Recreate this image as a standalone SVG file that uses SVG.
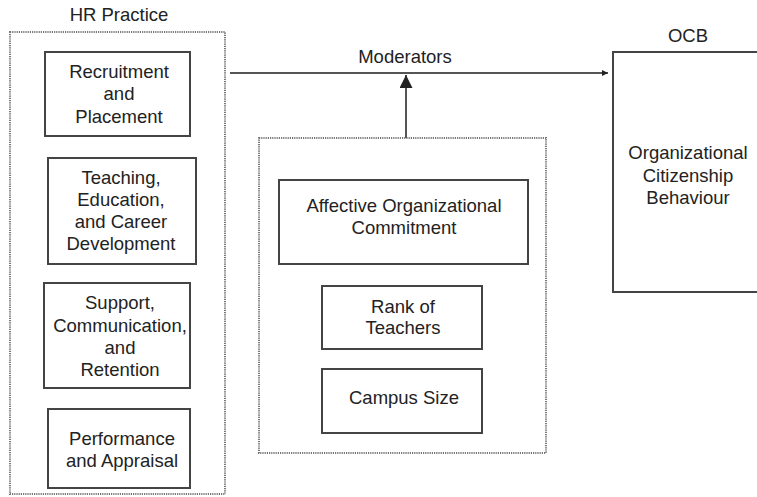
<svg xmlns="http://www.w3.org/2000/svg" width="757" height="497" viewBox="0 0 757 497">
<style>
text{font-family:"Liberation Sans",Arial,sans-serif;font-size:18.5px;fill:#222;text-anchor:middle}
.box{fill:#fff;stroke:#444;stroke-width:2}
.dot{fill:none;stroke:#777;stroke-width:2;stroke-dasharray:1.2,1}
.line{stroke:#555;stroke-width:2;fill:none}
</style>
<defs>
<marker id="arrS" viewBox="0 0 10 10" refX="10" refY="5" markerWidth="8" markerHeight="6" markerUnits="userSpaceOnUse" orient="auto"><path d="M0,0L10,5L0,10z" fill="#222"/></marker>
<marker id="arrL" viewBox="0 0 10 10" refX="10" refY="5" markerWidth="13" markerHeight="13" markerUnits="userSpaceOnUse" orient="auto"><path d="M0,0L10,5L0,10z" fill="#222"/></marker>
</defs>
<rect width="757" height="497" fill="#fff"/>
<g id="hr-practice">
<rect class="dot" x="10" y="32" width="215" height="462"/>
<text x="119" y="21">HR Practice</text>
</g>
<g id="recruitment">
<rect class="box" x="45" y="52" width="145" height="84"/>
<text x="119" y="78">Recruitment</text>
<text x="119" y="100">and</text>
<text x="119" y="123">Placement</text>
</g>
<g id="teaching">
<rect class="box" x="48" y="158" width="148" height="106"/>
<text x="121" y="184">Teaching,</text>
<text x="121" y="206">Education,</text>
<text x="121" y="228">and Career</text>
<text x="121" y="250">Development</text>
</g>
<g id="support">
<rect class="box" x="44" y="283" width="146" height="105"/>
<text x="120" y="309">Support,</text>
<text x="120" y="332">Communication,</text>
<text x="120" y="354">and</text>
<text x="120" y="376">Retention</text>
</g>
<g id="performance">
<rect class="box" x="48" y="409" width="142" height="79"/>
<text x="122" y="445">Performance</text>
<text x="122" y="467">and Appraisal</text>
</g>
<g id="moderators">
<rect class="dot" x="259" y="138" width="287" height="315"/>
<text x="405" y="63">Moderators</text>
</g>
<g id="affective">
<rect class="box" x="279" y="180" width="249" height="84"/>
<text x="404" y="212">Affective Organizational</text>
<text x="404" y="234">Commitment</text>
</g>
<g id="rank">
<rect class="box" x="322" y="286" width="160" height="63"/>
<text x="403" y="313">Rank of</text>
<text x="403" y="334">Teachers</text>
</g>
<g id="campus">
<rect class="box" x="322" y="369" width="160" height="64"/>
<text x="404" y="404">Campus Size</text>
</g>
<g id="ocb">
<rect class="box" x="613" y="52" width="160" height="240"/>
<text x="688" y="42">OCB</text>
<text x="688" y="159">Organizational</text>
<text x="688" y="182">Citizenship</text>
<text x="688" y="204">Behaviour</text>
</g>
<g id="connectors">
<line class="line" x1="230" y1="73" x2="608" y2="73" marker-end="url(#arrS)"/>
<line class="line" x1="406" y1="138" x2="406" y2="75" marker-end="url(#arrL)"/>
</g>
</svg>
